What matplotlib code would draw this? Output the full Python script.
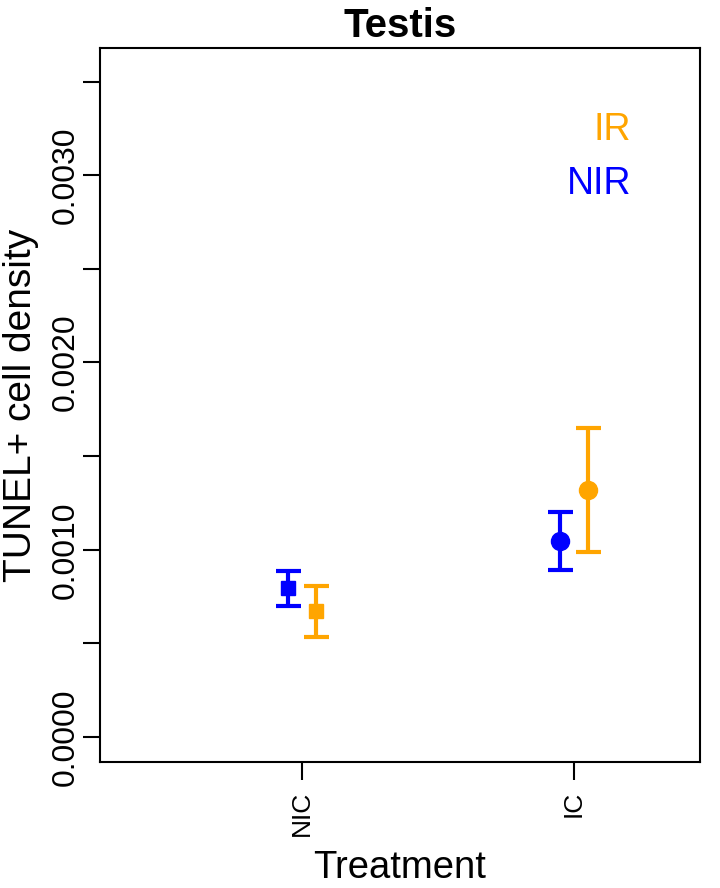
import matplotlib
matplotlib.use("Agg")
import matplotlib.pyplot as plt
import numpy as np

plt.rcParams['font.family'] = ['Liberation Sans', 'DejaVu Sans']

treatments = ["NIC", "IC"]
groups = ["NIR", "IR"]
colors = {"NIR": "#0000FF", "IR": "#FFA500"}
markers = {"NIC": "s", "IC": "o"}
means = {"NIR": [0.000796, 0.001046], "IR": [0.000673, 0.001319]}
upper = {"NIR": [0.000886, 0.001201], "IR": [0.000806, 0.001650]}
lower = {"NIR": [0.000699, 0.000892], "IR": [0.000534, 0.000988]}
offsets = {"NIR": -0.05, "IR": 0.05}
yticks = [0.0, 0.0005, 0.0010, 0.0015, 0.0020, 0.0025, 0.0030, 0.0035]
ylabels = ["0.0000", "", "0.0010", "", "0.0020", "", "0.0030", ""]

fig = plt.figure(figsize=(7.2, 8.88), dpi=100)
ax = fig.add_axes([100/720, 126/888, 600/720, 714/888])

x = np.arange(1, len(treatments) + 1)
for g in groups:
    for i, t in enumerate(treatments):
        xi = x[i] + offsets[g]
        m = means[g][i]
        ax.errorbar([xi], [m], yerr=[[m - lower[g][i]], [upper[g][i] - m]],
                    fmt=markers[t], color=colors[g], ecolor=colors[g],
                    elinewidth=3, capsize=9, capthick=3,
                    markersize=10 if t == "NIC" else 13, zorder=3)

ax.set_xlim(0.257, 2.463)
ax.set_ylim(-0.000133, 0.003679)
ax.set_xticks(x)
ax.set_xticklabels(treatments, rotation=90, fontsize=19)
ax.set_yticks(yticks)
ax.set_yticklabels(ylabels, rotation=90, va='center', fontsize=23)
ax.tick_params(axis='y', length=12, width=1.5, pad=2)
ax.tick_params(axis='x', length=13, width=1.5, pad=8)
for s in ax.spines.values():
    s.set_linewidth(1.5)

ax.set_xlabel("Treatment", fontsize=27.5, labelpad=10)
ax.set_ylabel("TUNEL+ cell density", fontsize=28, labelpad=8)
ax.set_title("Testis", fontsize=29, fontweight='bold', pad=8)

ax.text(0.885, 0.885, "IR", color=colors["IR"], fontsize=27, ha='right', va='center', transform=ax.transAxes)
ax.text(0.885, 0.809, "NIR", color=colors["NIR"], fontsize=27, ha='right', va='center', transform=ax.transAxes)

fig.savefig("out.png", dpi=100)
